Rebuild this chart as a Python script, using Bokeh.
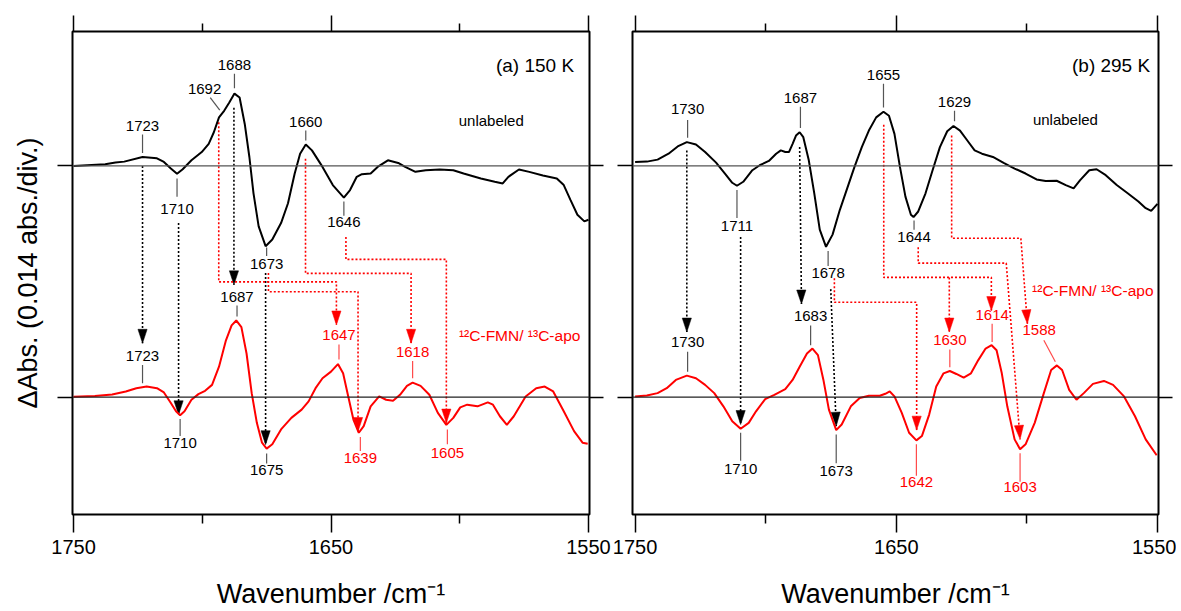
import math
from bokeh.plotting import figure
from bokeh.models import Range1d, LinearAxis, FixedTicker, Label, Span
from bokeh.layouts import row
from bokeh.embed import file_html
from bokeh.resources import INLINE
from bokeh.core.properties import value

OFFSET = 14.0          # vertical offset of the unlabeled spectrum (1 div = 0.014 abs = 14 mAbs)
X_TICKS = [1750, 1650, 1550]
X_MINOR = [1700, 1600]

# ---------------- panel (a) 150 K ----------------
A_UNL_WN = [1750.0,1737.7,1733.7,1730.3,1723.2,1717.6,1714.9,1712.2,1709.8,1707.6,1704.2,1700.2,1697.5,1695.5,1693.5,
            1691.5,1689.5,1687.5,1685.5,1683.5,1681.7,1680.1,1678.1,1675.4,1672.8,1669.4,1666.7,1664.1,1662.0,1659.8,
            1657.4,1653.3,1649.3,1645.0,1642.6,1640.0,1638.0,1634.6,1631.9,1627.9,1623.9,1621.2,1617.2,1613.2,1607.8,
            1602.5,1598.5,1591.8,1586.4,1583.3,1581.1,1577.0,1573.0,1567.7,1562.3,1559.6,1557.0,1554.3,1551.6,1550.0]
A_UNL_DA = [0.00,0.10,0.20,0.26,0.54,0.46,0.24,-0.16,-0.48,-0.20,0.34,0.84,1.34,2.04,2.94,
            3.34,3.84,4.38,4.14,2.54,0.54,-1.66,-3.66,-4.86,-4.46,-3.46,-2.26,-0.46,0.74,1.30,
            0.94,-0.06,-1.16,-1.92,-1.46,-0.66,-0.50,-0.46,-0.06,0.34,0.18,-0.06,-0.36,-0.26,-0.22,
            -0.26,-0.46,-0.76,-0.96,-1.06,-0.66,-0.22,-0.36,-0.58,-0.76,-1.16,-2.06,-2.96,-3.36,-3.26]
A_LAB_WN = [1750.0,1741.7,1735.0,1729.7,1725.6,1721.6,1717.6,1714.9,1712.2,1710.2,
            1708.6,1706.9,1704.2,1701.5,1698.9,1696.2,1693.5,1690.8,1688.6,1686.8,
            1684.8,1682.8,1680.8,1678.8,1676.8,1675.0,1672.8,1669.4,1665.4,1661.4,
            1658.7,1656.0,1653.3,1650.0,1647.3,1645.3,1643.3,1641.3,1639.2,1637.3,
            1634.6,1631.3,1628.6,1625.9,1623.2,1620.5,1618.3,1615.2,1611.8,1608.5,
            1605.2,1602.5,1599.8,1597.1,1593.1,1589.1,1587.1,1584.4,1581.7,1579.0,
            1574.4,1570.3,1567.0,1563.7,1559.6,1555.6,1552.3,1550.3]
A_LAB_DA = [0.02,0.06,0.16,0.34,0.54,0.64,0.54,0.28,-0.36,-0.86,
            -1.10,-0.86,-0.16,0.18,0.38,0.74,1.84,3.44,4.34,4.64,
            4.24,2.64,0.24,-1.56,-2.76,-3.12,-2.86,-1.96,-1.26,-0.76,
            -0.26,0.54,1.14,1.54,2.00,1.44,0.04,-1.36,-2.16,-1.76,
            -0.56,0.04,-0.16,-0.22,0.14,0.68,0.88,0.68,0.14,-0.96,
            -1.68,-1.26,-0.62,-0.46,-0.56,-0.32,-0.46,-1.16,-1.68,-1.16,
            0.04,0.54,0.64,0.34,-0.86,-2.06,-2.76,-2.82]

# ---------------- panel (b) 295 K ----------------
B_UNL_WN = [1750.0,1745.5,1741.4,1737.2,1733.7,1730.2,1726.7,1723.2,1719.0,1715.6,
            1712.8,1711.0,1708.6,1705.1,1702.3,1698.8,1696.0,1694.2,1692.5,1691.1,
            1689.7,1688.4,1687.0,1685.6,1683.5,1681.4,1679.3,1676.9,1674.4,1671.6,
            1668.8,1666.0,1663.2,1660.5,1657.7,1654.9,1652.8,1650.7,1648.6,1646.5,
            1644.4,1643.4,1641.6,1638.8,1636.1,1633.3,1630.5,1628.1,1625.6,1622.8,
            1620.0,1617.2,1613.0,1608.9,1604.7,1600.5,1596.3,1592.8,1588.6,1585.1,
            1582.1,1579.6,1576.1,1573.3,1569.8,1565.6,1561.4,1557.3,1554.5,1552.4,1550.0]
B_UNL_DA = [0.24,0.26,0.38,0.74,1.18,1.44,1.30,0.84,0.20,-0.46,
            -1.02,-1.20,-0.96,-0.26,0.04,0.30,0.74,0.94,0.84,0.84,
            1.34,1.84,2.04,1.74,0.34,-1.66,-3.86,-4.90,-4.16,-2.66,
            -1.36,-0.06,1.14,2.14,2.94,3.28,3.04,1.94,-0.06,-1.86,
            -2.96,-3.10,-2.76,-1.66,-0.26,1.14,2.10,2.42,2.14,1.54,
            0.94,0.74,0.54,0.18,-0.16,-0.46,-0.82,-0.92,-0.90,-1.16,
            -1.36,-0.86,-0.26,-0.20,-0.56,-1.16,-1.66,-2.16,-2.56,-2.72,-2.30]
B_LAB_WN = [1750.0,1745.5,1741.4,1737.9,1734.4,1730.2,1726.7,1723.2,1719.7,1716.2,
            1712.8,1709.6,1706.5,1703.7,1700.2,1696.7,1692.5,1689.7,1687.0,1684.2,
            1682.1,1680.0,1677.9,1675.8,1673.0,1670.9,1667.4,1664.0,1660.5,1656.3,
            1654.2,1652.5,1650.7,1647.9,1645.1,1642.3,1640.2,1637.4,1634.7,1631.9,
            1629.5,1627.0,1624.2,1621.4,1618.6,1615.8,1613.5,1611.6,1609.6,1607.5,
            1604.7,1602.6,1600.5,1597.0,1593.5,1590.7,1588.5,1586.5,1583.8,1581.0,
            1578.2,1574.7,1570.5,1567.0,1562.8,1558.6,1554.5,1550.3]
B_LAB_DA = [0.04,0.10,0.24,0.54,1.04,1.30,1.14,0.74,0.24,-0.56,
            -1.46,-1.92,-1.56,-0.86,-0.12,0.14,0.48,1.04,1.84,2.64,
            2.94,2.54,1.04,-0.76,-2.00,-1.66,-0.56,-0.06,0.08,0.08,
            0.20,0.34,0.04,-0.96,-2.16,-2.62,-2.36,-1.06,0.64,1.44,
            1.58,1.40,1.18,1.44,2.24,2.94,3.14,2.84,1.44,-0.56,
            -2.56,-3.16,-2.86,-1.56,0.24,1.64,1.92,1.64,0.44,-0.16,
            0.24,0.80,0.98,0.74,0.04,-1.16,-2.56,-3.52]

# peak labels: (text, wavenumber, label y, leader y0, leader y1, red?)
A_PEAKS = [("1723",1723.2,16.40,15.90,14.78,False), ("1710",1709.8,11.38,13.24,12.14,False),
           ("1688",1687.5,20.14,19.58,18.70,False), ("1660",1659.8,16.68,16.14,15.54,False),
           ("1646",1645.0,10.58,11.84,10.98,False), ("1673",1675.0,8.06,9.06,8.54,False),
           ("1687",1686.5,6.08,5.54,4.88,False), ("1723",1723.2,2.50,1.94,0.84,False),
           ("1647",1646.9,3.74,3.18,2.28,True), ("1618",1618.3,2.74,2.18,1.14,True),
           ("1710",1708.6,-2.76,-1.32,-2.36,False), ("1675",1675.0,-4.42,-3.42,-4.02,False),
           ("1639",1638.6,-3.66,-2.42,-3.26,True), ("1605",1604.8,-3.36,-1.96,-2.86,True)]
A_SLANT = [("1692",1699.1,18.64,(1696.9,18.14),(1693.2,17.38),False)]
B_PEAKS = [("1730",1729.9,17.44,16.78,15.70,False), ("1711",1711.0,10.34,12.54,10.84,False),
           ("1687",1686.7,18.14,17.58,16.30,False), ("1678",1676.1,7.50,8.84,7.94,False),
           ("1655",1654.9,19.50,18.98,17.54,False), ("1644",1643.2,9.68,10.70,10.14,False),
           ("1629",1627.7,17.90,17.34,16.70,False),
           ("1730",1729.9,3.34,2.74,1.54,False), ("1683",1682.8,4.90,4.34,3.14,False),
           ("1630",1629.5,3.44,2.88,1.80,True), ("1614",1613.3,4.98,4.44,3.34,True),
           ("1710",1709.6,-4.36,-2.16,-3.86,False), ("1673",1673.0,-4.50,-2.26,-4.00,False),
           ("1642",1642.3,-5.16,-2.86,-4.76,True), ("1603",1602.6,-5.42,-3.40,-5.12,True)]
B_SLANT = [("1588",1595.3,4.04,(1593.5,3.44),(1589.1,2.14),True)]

# correlation arrows (dotted paths, arrow at last point)
A_BLACK = [[(1723.2,14.0),(1723.2,3.26)], [(1709.2,10.55),(1709.2,-1.07)],
           [(1687.7,17.52),(1687.7,6.8)], [(1675.4,7.51),(1675.4,-2.88)]]
A_RED = [[(1693.6,16.65),(1693.6,6.98),(1647.9,6.98),(1647.9,4.37)],
         [(1674.3,7.51),(1674.3,6.38),(1639.5,6.38),(1639.5,-2.08)],
         [(1659.9,14.44),(1659.9,7.49),(1618.9,7.49),(1618.9,3.26)],
         [(1644.2,9.70),(1644.2,8.34),(1605.2,8.34),(1605.2,-1.57)]]
B_BLACK = [[(1730.2,14.94),(1730.2,3.94)], [(1709.6,9.70),(1709.6,-1.66)],
           [(1687.0,15.14),(1686.3,5.64)], [(1675.1,6.54),(1673.0,-1.76)]]
B_RED = [[(1673.7,7.2),(1673.7,5.74),(1642.2,5.74),(1642.2,-2.0)],
         [(1654.8,16.5),(1654.8,7.25),(1613.6,7.25),(1613.6,5.24)],
         [(1629.7,7.25),(1629.7,3.94)],
         [(1641.6,9.08),(1641.6,8.11),(1607.9,8.11),(1602.6,-2.56)],
         [(1628.8,15.84),(1628.8,9.62),(1602.3,9.62),(1599.8,4.44)]]

FONT = "Liberation Sans"
RED = "#ff0000"
Y0, Y1 = -7.11, 22.14
FRAME_H = 484
TOP = 31
H = 611


def heads(paths, kx, ky, L=14.0, W=4.6):
    xs, ys = [], []
    for path in paths:
        (xa, ya), (xb, yb) = path[-2], path[-1]
        sx, sy = -(xb - xa) * kx, (yb - ya) * ky
        n = math.hypot(sx, sy)
        ux, uy = sx / n, sy / n
        px, py = -uy, ux
        pts = [(0, 0), (-L * ux + W * px, -L * uy + W * py), (-L * ux - W * px, -L * uy - W * py)]
        xs.append([xb - ox / kx for ox, oy in pts])
        ys.append([yb + oy / ky for ox, oy in pts])
    return xs, ys


def build(xr, frame_w, bl, br, unl, lab, peaks, slants, black, red, tag, iso_pos, unl_pos, tag_pos):
    p = figure(width=bl + frame_w + br, height=H, x_range=Range1d(*xr), y_range=Range1d(Y0, Y1),
               output_backend="svg", toolbar_location=None, min_border=0,
               min_border_left=bl, min_border_right=br, min_border_top=TOP,
               min_border_bottom=H - TOP - FRAME_H)
    p.grid.visible = False
    p.outline_line_color = "black"
    p.outline_line_width = 2
    p.background_fill_color = "white"
    p.border_fill_color = "white"
    xt = FixedTicker(ticks=X_TICKS, minor_ticks=X_MINOR)
    yt = FixedTicker(ticks=[0, OFFSET], minor_ticks=[])
    blank_y = {0: "", 14: ""}
    blank_x = {1750: "", 1650: "", 1550: ""}
    common = dict(axis_line_color=None, major_tick_in=0, minor_tick_in=0,
                  major_tick_line_width=1.5, minor_tick_line_width=1.5,
                  major_tick_line_color="black", minor_tick_line_color="black")
    xa = p.xaxis[0]
    xa.ticker = xt
    for k, v in common.items():
        setattr(xa, k, v)
    xa.major_tick_out = 18
    xa.minor_tick_out = 9
    xa.major_label_text_font = FONT
    xa.major_label_text_font_size = "20px"
    xa.major_label_text_color = "black"
    xa.major_label_standoff = 7
    xa.axis_label = "Wavenumber /cm\u207b\u00b9"
    xa.axis_label_text_font = FONT
    xa.axis_label_text_font_size = "27px"
    xa.axis_label_text_font_style = "normal"
    xa.axis_label_text_color = "black"
    xa.axis_label_standoff = 22
    ya = p.yaxis[0]
    ya.ticker = yt
    for k, v in common.items():
        setattr(ya, k, v)
    ya.major_tick_out = 15
    ya.major_label_overrides = blank_y
    ya.major_label_standoff = 0
    top = LinearAxis(ticker=xt, major_tick_out=16, minor_tick_out=8, major_label_overrides=blank_x,
                     major_label_standoff=0, **common)
    p.add_layout(top, "above")
    right = LinearAxis(ticker=yt, major_tick_out=14, major_label_overrides=blank_y,
                       major_label_standoff=0, **common)
    p.add_layout(right, "right")

    kx = frame_w / abs(xr[0] - xr[1])
    ky = FRAME_H / (Y1 - Y0)

    p.add_layout(Span(location=OFFSET, dimension="width", line_color="#555555", line_width=1.2))
    p.add_layout(Span(location=0, dimension="width", line_color="#222222", line_width=1.2))

    # dotted correlation paths
    for paths, col in ((black, "black"), (red, RED)):
        p.multi_line([[q[0] for q in pth] for pth in paths], [[q[1] for q in pth] for pth in paths],
                     line_color=col, line_width=1.6, line_dash="2 2")
        hx, hy = heads(paths, kx, ky)
        p.patches(hx, hy, fill_color=col, line_color=col, line_width=0.5)

    # spectra
    p.line(unl[0], [d + OFFSET for d in unl[1]], line_color="black", line_width=2)
    p.line(lab[0], lab[1], line_color=RED, line_width=2)

    # peak leaders and labels
    for txt, x, ly, y0, y1, isred in peaks:
        col = RED if isred else "black"
        lcol = "#ff4a4a" if isred else "#555555"
        p.segment(x0=[x], y0=[y0], x1=[x], y1=[y1], line_color=lcol, line_width=1.2)
        p.text(x=[x], y=[ly], text=[txt], text_color=col, text_font=value(FONT), text_font_size="15px",
               text_align="center", text_baseline="middle")
    for txt, x, ly, a, b, isred in slants:
        col = RED if isred else "black"
        lcol = "#ff4a4a" if isred else "#555555"
        p.segment(x0=[a[0]], y0=[a[1]], x1=[b[0]], y1=[b[1]], line_color=lcol, line_width=1.2)
        p.text(x=[x], y=[ly], text=[txt], text_color=col, text_font=value(FONT), text_font_size="15px",
               text_align="center", text_baseline="middle")

    p.add_layout(Label(x=tag_pos[0], y=tag_pos[1], text=tag, text_font=FONT, text_font_size="19px",
                       text_align="right", text_baseline="middle", text_color="black"))
    p.add_layout(Label(x=unl_pos[0], y=unl_pos[1], text="unlabeled", text_font=FONT, text_font_size="15px",
                       text_align="left", text_baseline="middle", text_color="black"))
    p.add_layout(Label(x=iso_pos[0], y=iso_pos[1], text="\u00b9\u00b2C-FMN/ \u00b9\u00b3C-apo", text_font=FONT,
                       text_font_size="15.5px", text_align="left", text_baseline="middle", text_color=RED))
    return p


pa = build((1750.4, 1549.6), 517, 72, 22, (A_UNL_WN, A_UNL_DA), (A_LAB_WN, A_LAB_DA), A_PEAKS, A_SLANT,
           A_BLACK, A_RED, "(a) 150 K", (1600.3, 3.74), (1600.4, 16.78), (1555.6, 20.10))
pb = build((1751.0, 1549.6), 526, 21, 18, (B_UNL_WN, B_UNL_DA), (B_LAB_WN, B_LAB_DA), B_PEAKS, B_SLANT,
           B_BLACK, B_RED, "(b) 295 K", (1598.0, 6.44), (1597.7, 16.84), (1552.8, 20.10))

ya = pa.yaxis[0]
ya.axis_label = "\u0394Abs. (0.014 abs./div.)"
ya.axis_label_text_font = FONT
ya.axis_label_text_font_size = "27px"
ya.axis_label_text_font_style = "normal"
ya.axis_label_text_color = "black"
ya.axis_label_standoff = 15

layout = row(pa, pb)
open("out.html", "w").write(file_html(layout, INLINE))
